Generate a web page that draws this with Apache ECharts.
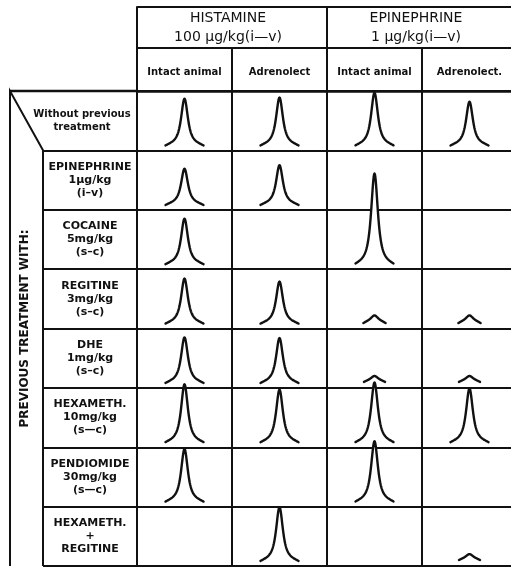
<!DOCTYPE html>
<html><head><meta charset="utf-8">
<script src="https://cdn.jsdelivr.net/npm/echarts@6/dist/echarts.min.js"></script>
<style>html,body{margin:0;padding:0;background:#fff}#c{width:511px;height:567px}</style>
</head><body><div id="c"></div>
<script>
// Column group headers (drug injected) and sub-headers (animal preparation)
const groupHeaders = ['HISTAMINE\n100 µg/kg(i—v)', 'EPINEPHRINE\n1 µg/kg(i—v)'];
const columns = ['Intact animal', 'Adrenolect', 'Intact animal', 'Adrenolect.'];
// Row labels (previous treatment)
const treatments = [
  'Without previous\ntreatment',
  'EPINEPHRINE\n1µg/kg\n(i–v)',
  'COCAINE\n5mg/kg\n(s–c)',
  'REGITINE\n3mg/kg\n(s–c)',
  'DHE\n1mg/kg\n(s–c)',
  'HEXAMETH.\n10mg/kg\n(s—c)',
  'PENDIOMIDE\n30mg/kg\n(s—c)',
  'HEXAMETH.\n+\nREGITINE'
];
const axisTitle = 'PREVIOUS TREATMENT WITH:';
// Peak amplitude of each response, in row-heights (null = no trace)
const histamineIntact     = [0.74, 0.56, 0.72, 0.71, 0.72, 0.93, 0.84, null];
const histamineAdrenalect = [0.76, 0.62, null, 0.66, 0.71, 0.84, null, 0.86];
const epinephrineIntact   = [0.84, null, 1.48, 0.09, 0.07, 0.96, 0.97, null];
const epinephrineAdrenalect = [0.69, null, null, 0.09, 0.07, 0.86, null, 0.07];

const seriesCols = [histamineIntact, histamineAdrenalect, epinephrineIntact, epinephrineAdrenalect];
const peaks = [];
seriesCols.forEach((arr, c) => arr.forEach((v, r) => { if (v != null) peaks.push([c, r, v]); }));

const INK = '#111';
const FONT = 'DejaVu Sans';
const G = { left: 137, top: 91, width: 380, height: 475 };
const rowH = G.height / treatments.length;

function renderPeak(params, api) {
  const c = api.coord([api.value(0), api.value(1)]);
  const size = api.size([1, 1]);
  const colW = size[0], rH = size[1];
  const h = api.value(2) * rH;
  const base = c[1] + rH * 0.37;
  const w = colW * 0.053;
  const L = colW * 0.2 * Math.min(1, 0.45 + h / 40);
  const d = Math.min(3.5, h * 0.5);
  const pts = [];
  const N = 100;
  for (let i = 0; i <= N; i++) {
    const t = -L + (2 * L) * i / N;
    const u = (t / w) * (t / w);
    const y = base - h * Math.pow(1 + u, -1.5) + d * Math.pow(Math.abs(t) / L, 2.2);
    pts.push([c[0] + t, y]);
  }
  return {
    type: 'group',
    children: [
      { type: 'polygon', shape: { points: pts }, style: { fill: '#fff', stroke: null } },
      { type: 'polyline', shape: { points: pts, smooth: false },
        style: { fill: null, stroke: INK, lineWidth: 2.4, lineCap: 'round', lineJoin: 'round' } }
    ]
  };
}

const chart = echarts.init(document.getElementById('c'), null, { renderer: 'canvas' });
const lineStyle = { color: INK, width: 2 };
chart.setOption({
  animation: false,
  backgroundColor: '#fff',
  textStyle: { fontFamily: FONT, color: INK },
  grid: Object.assign({ show: true, borderColor: INK, borderWidth: 2, containLabel: false, outerBoundsMode: 'none' }, G),
  xAxis: [
    {
      type: 'category', data: columns, position: 'top', gridIndex: 0,
      axisLine: { show: true, lineStyle: { color: INK, width: 2.5 } },
      axisTick: { show: true, length: 43, interval: 0, alignWithLabel: false, lineStyle },
      axisLabel: { show: true, interval: 0, margin: 19, verticalAlign: 'middle', color: INK,
        fontFamily: FONT, fontWeight: 'bold', fontSize: 10, hideOverlap: false },
      splitLine: { show: true, interval: 0, lineStyle }
    },
    {
      type: 'category', data: groupHeaders, position: 'top', gridIndex: 0, offset: 43,
      axisLine: { show: true, lineStyle },
      axisTick: { show: true, length: 41, interval: 0, alignWithLabel: false, lineStyle },
      axisLabel: { show: true, interval: 0, margin: 20.5, verticalAlign: 'middle', color: INK,
        fontFamily: FONT, fontSize: 14, lineHeight: 19, hideOverlap: false,
        formatter: (v, i) => (i === 0 ? '{h|' : '{e|') + v + '}',
        rich: {
          h: { fontFamily: FONT, fontSize: 14, lineHeight: 19, color: INK, padding: [0, 8, 0, 0] },
          e: { fontFamily: FONT, fontSize: 14, lineHeight: 19, color: INK, padding: [0, 12, 0, 0] }
        } },
      splitLine: { show: false }
    },
    {
      type: 'category', data: [''], position: 'top', gridIndex: 0, offset: 84,
      axisLine: { show: true, lineStyle },
      axisTick: { show: false }, axisLabel: { show: false }, splitLine: { show: false }
    }
  ],
  yAxis: {
    type: 'category', data: treatments, inverse: true, position: 'left',
    name: axisTitle, nameLocation: 'middle', nameRotate: 90, nameGap: 106, nameMoveOverlap: false,
    nameTextStyle: { fontFamily: FONT, fontWeight: 'bold', fontSize: 12, color: INK },
    axisLine: { show: true, lineStyle },
    axisTick: { show: true, length: 94, interval: 0, alignWithLabel: false, lineStyle },
    axisLabel: {
      show: true, interval: 0, margin: 47, align: 'center', verticalAlign: 'middle', color: INK,
      fontFamily: FONT, fontWeight: 'bold', fontSize: 11, lineHeight: 13, hideOverlap: false,
      formatter: (v, i) => i === 0 ? '{a|' + v + '}' : v,
      rich: { a: { fontFamily: FONT, fontWeight: 'bold', fontSize: 10, lineHeight: 13, color: INK, padding: [0, 16, 0, 0] } }
    },
    splitLine: { show: true, interval: 0, lineStyle }
  },
  graphic: [
    { type: 'polyline', z: 10, silent: true,
      shape: { points: [[43, G.top + G.height], [43, G.top + rowH], [10, G.top], [10, G.top + G.height]] },
      style: { fill: null, stroke: INK, lineWidth: 2 } },
    { type: 'line', z: 10, silent: true,
      shape: { x1: 10, y1: G.top, x2: G.left, y2: G.top },
      style: { stroke: INK, lineWidth: 2.5 } }
  ],
  series: [{
    type: 'custom', coordinateSystem: 'cartesian2d', xAxisIndex: 0, yAxisIndex: 0,
    data: peaks, renderItem: renderPeak, clip: false, z: 5
  }]
});
</script></body></html>
